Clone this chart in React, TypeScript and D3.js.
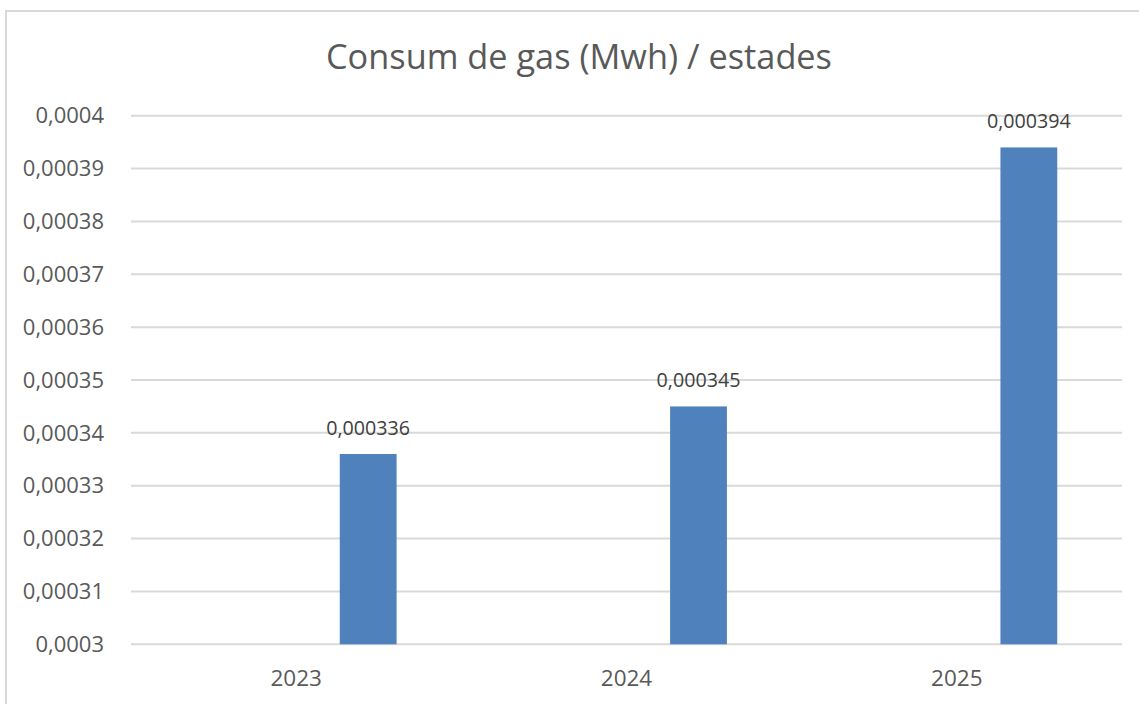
import React from "react";
import * as d3 from "d3";

const categories = ["2023", "2024", "2025"];
const values = [0.000336, 0.000345, 0.000394];
const dataLabels = ["0,000336", "0,000345", "0,000394"];
const yTicks = [0.0003, 0.00031, 0.00032, 0.00033, 0.00034, 0.00035, 0.00036, 0.00037, 0.00038, 0.00039, 0.0004];
const yTickLabels = ["0,0003", "0,00031", "0,00032", "0,00033", "0,00034", "0,00035", "0,00036", "0,00037", "0,00038", "0,00039", "0,0004"];
const title = "Consum de gas (Mwh) / estades";

const W = 1139;
const H = 704;
const plotLeft = 131;
const plotRight = 1122;
const plotTop = 115.7;
const plotBottom = 644.3;
const font = "'Open Sans', sans-serif";
const textColor = "#595959";

export default function App() {
  const x = d3.scaleBand<string>().domain(categories).range([plotLeft, plotRight]).padding(0);
  const y = d3.scaleLinear().domain([0.0003, 0.0004]).range([plotBottom, plotTop]);
  const bw = x.bandwidth();
  return (
    <svg width={W} height={H} style={{ position: "absolute", left: 0, top: 0, background: "#fff" }}>
      <rect x={6} y={11} width={1140} height={700} fill="#fff" stroke="#d9d9d9" strokeWidth={2} />
      <text x={579} y={69} textAnchor="middle" fontFamily={font} fontSize={34.3} fill={textColor}>
        {title}
      </text>
      {yTicks.map((t, i) => (
        <g key={i}>
          <line x1={plotLeft} x2={plotRight} y1={y(t)} y2={y(t)} stroke="#d9d9d9" strokeWidth={2} />
          <text x={104} y={y(t)} dy="0.35em" textAnchor="end" fontFamily={font} fontSize={22} fill={textColor}>
            {yTickLabels[i]}
          </text>
        </g>
      ))}
      {categories.map((c, i) => {
        const x0 = (x(c) ?? 0) + bw * 0.632;
        const w = bw * 0.172;
        return (
          <g key={c}>
            <rect x={x0} y={y(values[i])} width={w} height={y(0.0003) - y(values[i])} fill="#4f81bd" />
            <text x={x0 + w / 2} y={y(values[i]) - 19} textAnchor="middle" fontFamily={font} fontSize={19.7} fill="#404040">
              {dataLabels[i]}
            </text>
            <text x={(x(c) ?? 0) + bw / 2} y={686} textAnchor="middle" fontFamily={font} fontSize={22.5} fill={textColor}>
              {c}
            </text>
          </g>
        );
      })}
    </svg>
  );
}
